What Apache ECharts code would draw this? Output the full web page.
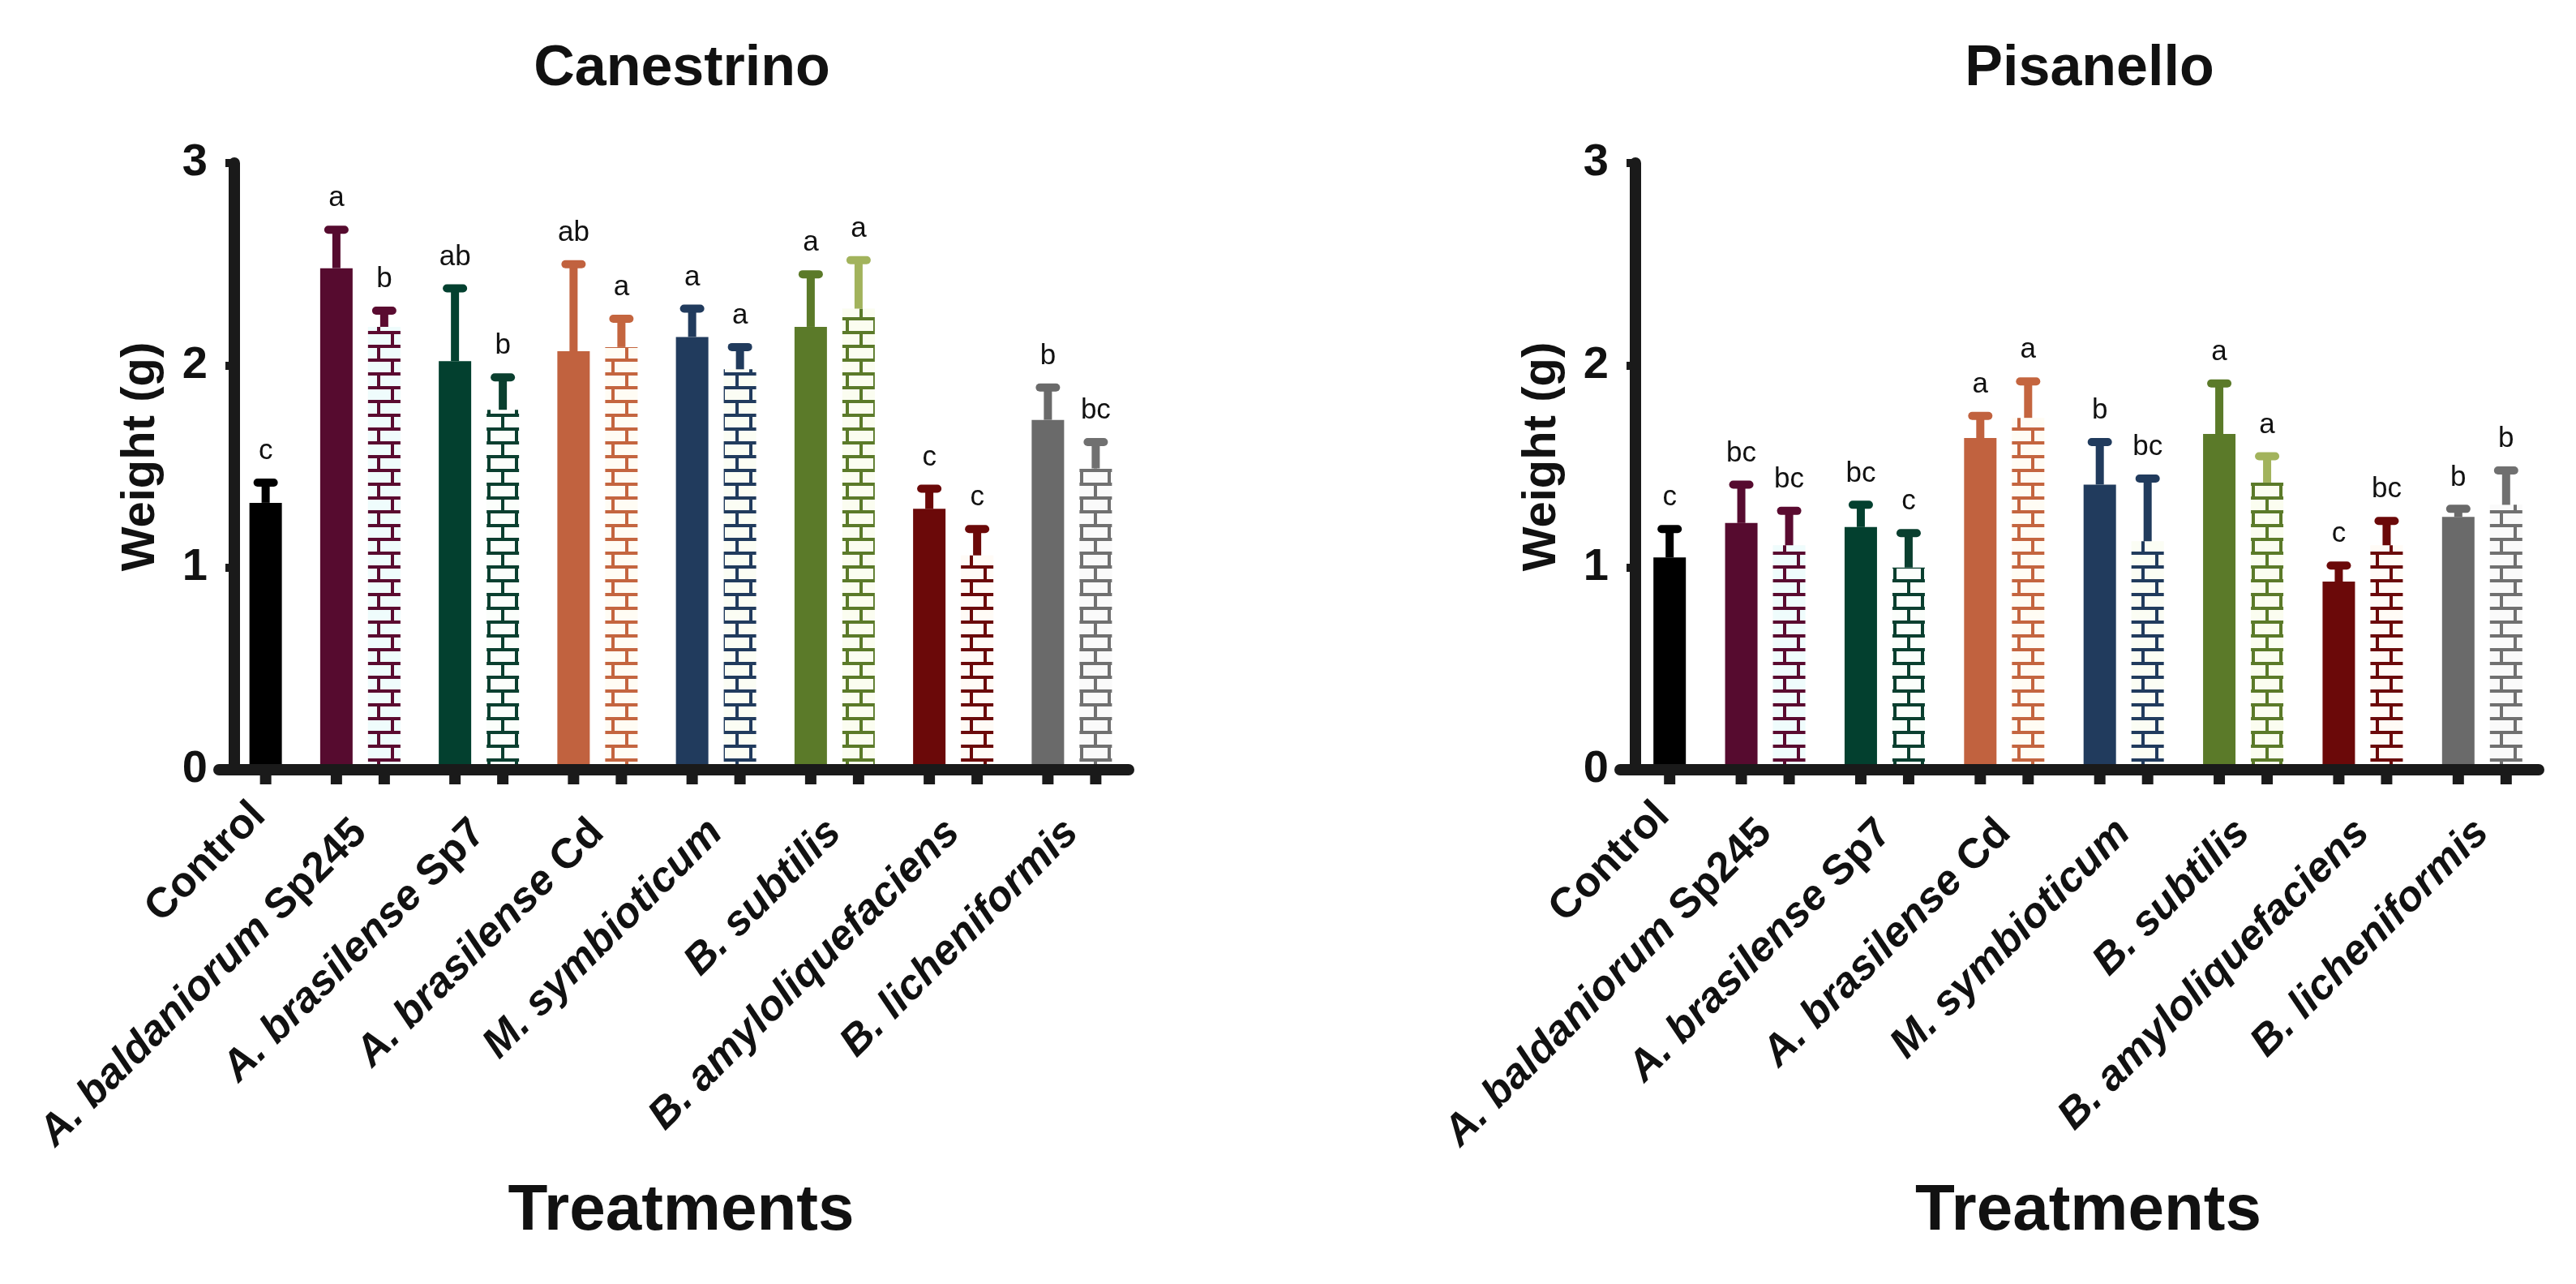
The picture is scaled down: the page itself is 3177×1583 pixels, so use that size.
<!DOCTYPE html>
<html>
<head>
<meta charset="utf-8">
<title>Weight (g) - Canestrino / Pisanello</title>
<script src="https://cdn.jsdelivr.net/npm/echarts@6/dist/echarts.min.js"></script>
<style>
  html, body { margin: 0; padding: 0; background: #fff; }
  #main { width: 3177px; height: 1583px; }
</style>
</head>
<body>
<div id="main"></div>
<script>
var treatments = ['Control', 'A. baldaniorum Sp245', 'A. brasilense Sp7', 'A. brasilense Cd',
    'M. symbioticum', 'B. subtilis', 'B. amyloliquefaciens', 'B. licheniformis'];
var yTicks = [0, 1, 2, 3];

// Canestrino: solid bar + hatched bar per treatment (control only has one bar)
var canSolid = [null, 2.48, 2.02, 2.07, 2.14, 2.19, 1.29, 1.73];
var canSolidErr = [null, 0.19, 0.36, 0.43, 0.14, 0.26, 0.10, 0.16];
var canHatch = [1.32, 2.19, 1.78, 2.09, 1.98, 2.28, 1.06, 1.49];
var canHatchErr = [0.10, 0.08, 0.16, 0.14, 0.11, 0.24, 0.13, 0.13];
var canSolidLetters = [null, 'a', 'ab', 'ab', 'a', 'a', 'c', 'b'];
var canHatchLetters = ['c', 'b', 'b', 'a', 'a', 'a', 'c', 'bc'];

// Pisanello
var pisSolid = [null, 1.22, 1.20, 1.64, 1.41, 1.66, 0.93, 1.25];
var pisSolidErr = [null, 0.19, 0.11, 0.11, 0.21, 0.25, 0.08, 0.04];
var pisHatch = [1.05, 1.11, 1.00, 1.74, 1.13, 1.42, 1.11, 1.31];
var pisHatchErr = [0.14, 0.17, 0.17, 0.18, 0.31, 0.13, 0.12, 0.17];
var pisSolidLetters = [null, 'bc', 'bc', 'a', 'b', 'a', 'c', 'b'];
var pisHatchLetters = ['c', 'bc', 'c', 'a', 'bc', 'a', 'bc', 'b'];

var solidColors = ['#000000', '#560b2f', '#03402f', '#c1623f', '#213b5d', '#5b7a29', '#6b0909', '#6a6a6a'];
var hatchColors = ['#000000', '#5a0b30', '#0a3f2f', '#c4653f', '#213b5d', '#5b7a29', '#6b0909', '#707070'];
var hatchErrColors = ['#000000', '#5a0b30', '#0a3f2f', '#c4653f', '#213b5d', '#a2b35c', '#6b0909', '#707070'];
var hatchBg = ['#ffffff', '#effcfc', '#fbfefb', '#fffcf4', '#fbfdf4', '#fbfdf0', '#fffbf6', '#fafafa'];

var FONT = '"Liberation Sans", Arial, Helvetica, sans-serif';
var AXIS = '#1a1a1a';
var BAR_W = 40;
var SLOT = 29.5;  // half of (bar width + gap)

function brick(line, bg) {
    var c = document.createElement('canvas');
    c.width = 34; c.height = 34;
    var g = c.getContext('2d');
    g.fillStyle = bg;
    g.fillRect(0, 0, 34, 34);
    g.fillStyle = line;
    g.fillRect(0, 0, 34, 4);
    g.fillRect(0, 17, 34, 4);
    g.fillRect(6, 0, 4, 17);
    g.fillRect(23, 17, 4, 17);
    return { image: c, repeat: 'repeat' };
}

var patterns = hatchColors.map(function (c, i) { return brick(c, hatchBg[i]); });

function labelFormatter(v) {
    var parts = v.split(' ');
    if (parts.length === 1) return '{n|' + v + '}';
    var italic = parts.slice(0, 2).join(' ');
    var rest = parts.slice(2).join(' ');
    return rest ? '{i|' + italic + '} {n|' + rest + '}' : '{i|' + italic + '}';
}

function buildRows(solid, solidErr, solidLet, hatch, hatchErr, hatchLet) {
    var rows = [];
    for (var i = 0; i < treatments.length; i++) {
        if (solid[i] != null) {
            rows.push({ cat: i, slot: 0, mean: solid[i], err: solidErr[i], letter: solidLet[i], color: solidColors[i] });
        }
        rows.push({ cat: i, slot: 1, mean: hatch[i], err: hatchErr[i], letter: hatchLet[i], color: hatchErrColors[i] });
    }
    return rows;
}

function errorBars(rows) {
    return function (params, api) {
        var r = rows[params.dataIndex];
        var c0 = api.coord([r.cat, r.mean]);
        var c1 = api.coord([r.cat, r.mean + r.err]);
        var cz = api.coord([r.cat, 0]);
        var x = c0[0] + (r.slot === 0 ? -SLOT : SLOT);
        return {
            type: 'group',
            children: [
                { type: 'line', shape: { x1: x, y1: c0[1], x2: x, y2: c1[1] },
                  style: { stroke: r.color, lineWidth: 10 } },
                { type: 'line', shape: { x1: x - 10, y1: c1[1], x2: x + 10, y2: c1[1] },
                  style: { stroke: r.color, lineWidth: 10, lineCap: 'round' } },
                { type: 'text', x: x, y: c1[1] - 21,
                  style: { text: r.letter, fill: '#111', font: '35px ' + FONT, align: 'center', verticalAlign: 'bottom' } },
                { type: 'rect', shape: { x: x - 7, y: cz[1], width: 14, height: 18 },
                  style: { fill: AXIS } }
            ]
        };
    };
}

function catAxis(gridIndex) {
    return {
        gridIndex: gridIndex,
        type: 'category',
        data: treatments.map(function (t, i) {
            return i === 0 ? { value: t, textStyle: { padding: [0, -30, 0, 0] } } : t;
        }),
        axisLine: { show: false },
        axisTick: { show: false },
        axisLabel: {
            interval: 0, rotate: 45, margin: 70, color: '#111',
            fontSize: 52, fontWeight: 'bold', fontFamily: FONT,
            formatter: labelFormatter,
            rich: {
                i: { fontStyle: 'italic', fontWeight: 'bold', fontSize: 52, fontFamily: FONT, color: '#111' },
                n: { fontWeight: 'bold', fontSize: 52, fontFamily: FONT, color: '#111' }
            }
        }
    };
}

function lineAxis(gridIndex, namePad) {
    return {
        gridIndex: gridIndex, type: 'value', min: 0, max: 1, z: 5,
        axisLine: { show: true, onZero: false, lineStyle: { color: AXIS, width: 14 } },
        axisTick: { show: false }, axisLabel: { show: false }, splitLine: { show: false },
        name: 'Treatments', nameLocation: 'middle', nameGap: 505,
        nameTextStyle: { fontSize: 80, fontWeight: 'bold', color: '#111', fontFamily: FONT, padding: [0, 0, 0, namePad] }
    };
}

function hiddenY(gridIndex) {
    return { gridIndex: gridIndex, type: 'value', min: yTicks[0], max: yTicks[yTicks.length - 1], show: false };
}

function weightAxis(gridIndex, gap) {
    return {
        gridIndex: gridIndex, type: 'value', z: 5,
        min: yTicks[0], max: yTicks[yTicks.length - 1], interval: yTicks[1] - yTicks[0],
        offset: -19,
        axisLine: { show: true, onZero: false, lineStyle: { color: AXIS, width: 14 } },
        axisTick: { show: true, length: 11, lineStyle: { color: AXIS, width: 10 } },
        axisLabel: { fontSize: 56, fontWeight: 'bold', color: '#111', margin: 33, fontFamily: FONT },
        splitLine: { show: false },
        name: 'Weight (g)', nameLocation: 'middle', nameRotate: 90, nameGap: gap,
        nameTextStyle: { fontSize: 58, fontWeight: 'bold', color: '#111', fontFamily: FONT, padding: [0, 0, 0, 24] }
    };
}

function barSeries(axisIdx, solid, hatch) {
    return [
        {
            type: 'bar', xAxisIndex: axisIdx, yAxisIndex: axisIdx, barWidth: BAR_W, barGap: '47.5%',
            silent: true,
            data: solid.map(function (v, i) {
                return v == null ? null : { value: v, itemStyle: { color: solidColors[i] } };
            })
        },
        {
            type: 'bar', xAxisIndex: axisIdx, yAxisIndex: axisIdx, barWidth: BAR_W, barGap: '47.5%',
            silent: true,
            data: hatch.map(function (v, i) {
                return { value: v, itemStyle: { color: i === 0 ? solidColors[0] : patterns[i] } };
            })
        }
    ];
}

function errSeries(axisIdx, rows) {
    return {
        type: 'custom', xAxisIndex: axisIdx, yAxisIndex: axisIdx, z: 3, silent: true,
        renderItem: errorBars(rows),
        encode: { x: 0, y: 1 },
        data: rows.map(function (r) { return [r.cat, r.mean + r.err]; })
    };
}

var canRows = buildRows(canSolid, canSolidErr, canSolidLetters, canHatch, canHatchErr, canHatchLetters);
var pisRows = buildRows(pisSolid, pisSolidErr, pisSolidLetters, pisHatch, pisHatchErr, pisHatchLetters);

var myChart = echarts.init(document.getElementById('main'));

var option = {
    animation: false,
    backgroundColor: '#ffffff',
    title: [
        { text: 'Canestrino', left: 836, top: 46, textAlign: 'center',
          textStyle: { fontSize: 70, fontWeight: 'bold', color: '#111', fontFamily: FONT } },
        { text: 'Pisanello', left: 2572, top: 46, textAlign: 'center',
          textStyle: { fontSize: 70, fontWeight: 'bold', color: '#111', fontFamily: FONT } }
    ],
    grid: [
        { left: 225, right: 1782, top: 201, bottom: 634, outerBoundsMode: 'none' },
        { left: 270, right: 1785, top: 201, bottom: 634, outerBoundsMode: 'none' },
        { left: 1956, right: 42, top: 201, bottom: 634, outerBoundsMode: 'none' },
        { left: 1998, right: 46, top: 201, bottom: 634, outerBoundsMode: 'none' }
    ],
    xAxis: [catAxis(0), lineAxis(1, 18), catAxis(2), lineAxis(3, 22)],
    yAxis: [hiddenY(0), weightAxis(1, 86), hiddenY(2), weightAxis(3, 86)],
    series: [].concat(
        barSeries(0, canSolid, canHatch),
        [errSeries(0, canRows)],
        barSeries(2, pisSolid, pisHatch),
        [errSeries(2, pisRows)]
    )
};

myChart.setOption(option);
</script>
</body>
</html>
